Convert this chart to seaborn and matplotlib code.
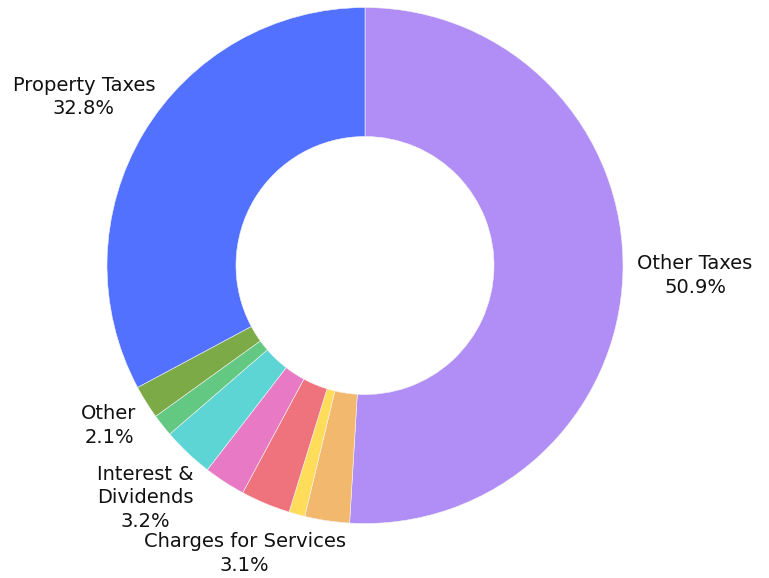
import matplotlib
matplotlib.use("Agg")
import matplotlib.pyplot as plt
import seaborn as sns
import numpy as np

# ---- data ----
categories = ["Other Taxes", "Licenses & Permits", "Fines & Forfeitures",
              "Charges for Services", "Intergovernmental", "Interest & Dividends",
              "Miscellaneous", "Other", "Property Taxes"]
values = [50.9, 2.8, 1.0, 3.1, 2.6, 3.2, 1.4, 2.1, 32.8]
label_text = {
    "Other Taxes": "Other Taxes\n50.9%",
    "Property Taxes": "Property Taxes\n32.8%",
    "Other": "Other\n2.1%",
    "Interest & Dividends": "Interest &\nDividends\n3.2%",
    "Charges for Services": "Charges for Services\n3.1%",
}

# ---- style ----
colors = ["#B08EF5", "#F2B86E", "#FFDC5A", "#EE737C", "#E87AC5",
          "#5DD5D5", "#63C882", "#7BAA47", "#5271FF"]
label_radius = {"Other Taxes": 1.28, "Property Taxes": 1.27, "Other": 1.17,
                "Interest & Dividends": 1.24, "Charges for Services": 1.21}

sns.set_theme(style="white")
plt.rcParams["font.family"] = ["DejaVu Sans"]

W, H = 769, 578
fig = plt.figure(figsize=(W / 100, H / 100), dpi=100)
cx, cy, R = 365, 265.5, 258
ax = fig.add_axes([(cx - R) / W, (H - cy - R) / H, 2 * R / W, 2 * R / H])

wedges, _ = ax.pie(values, startangle=90, counterclock=False, colors=colors,
                   wedgeprops=dict(width=0.5, edgecolor="#f4f4f4", linewidth=0.4))
ax.set_xlim(-1, 1)
ax.set_ylim(-1, 1)
ax.set_aspect("equal")
ax.axis("off")

for w, cat in zip(wedges, categories):
    if cat not in label_text:
        continue
    mid = np.deg2rad((w.theta1 + w.theta2) / 2)
    r = label_radius[cat]
    ax.text(r * np.cos(mid), r * np.sin(mid), label_text[cat], ha="center",
            va="center", fontsize=14, color="#111111", linespacing=1.3,
            clip_on=False)

fig.savefig("out.png", dpi=100, facecolor="white")
